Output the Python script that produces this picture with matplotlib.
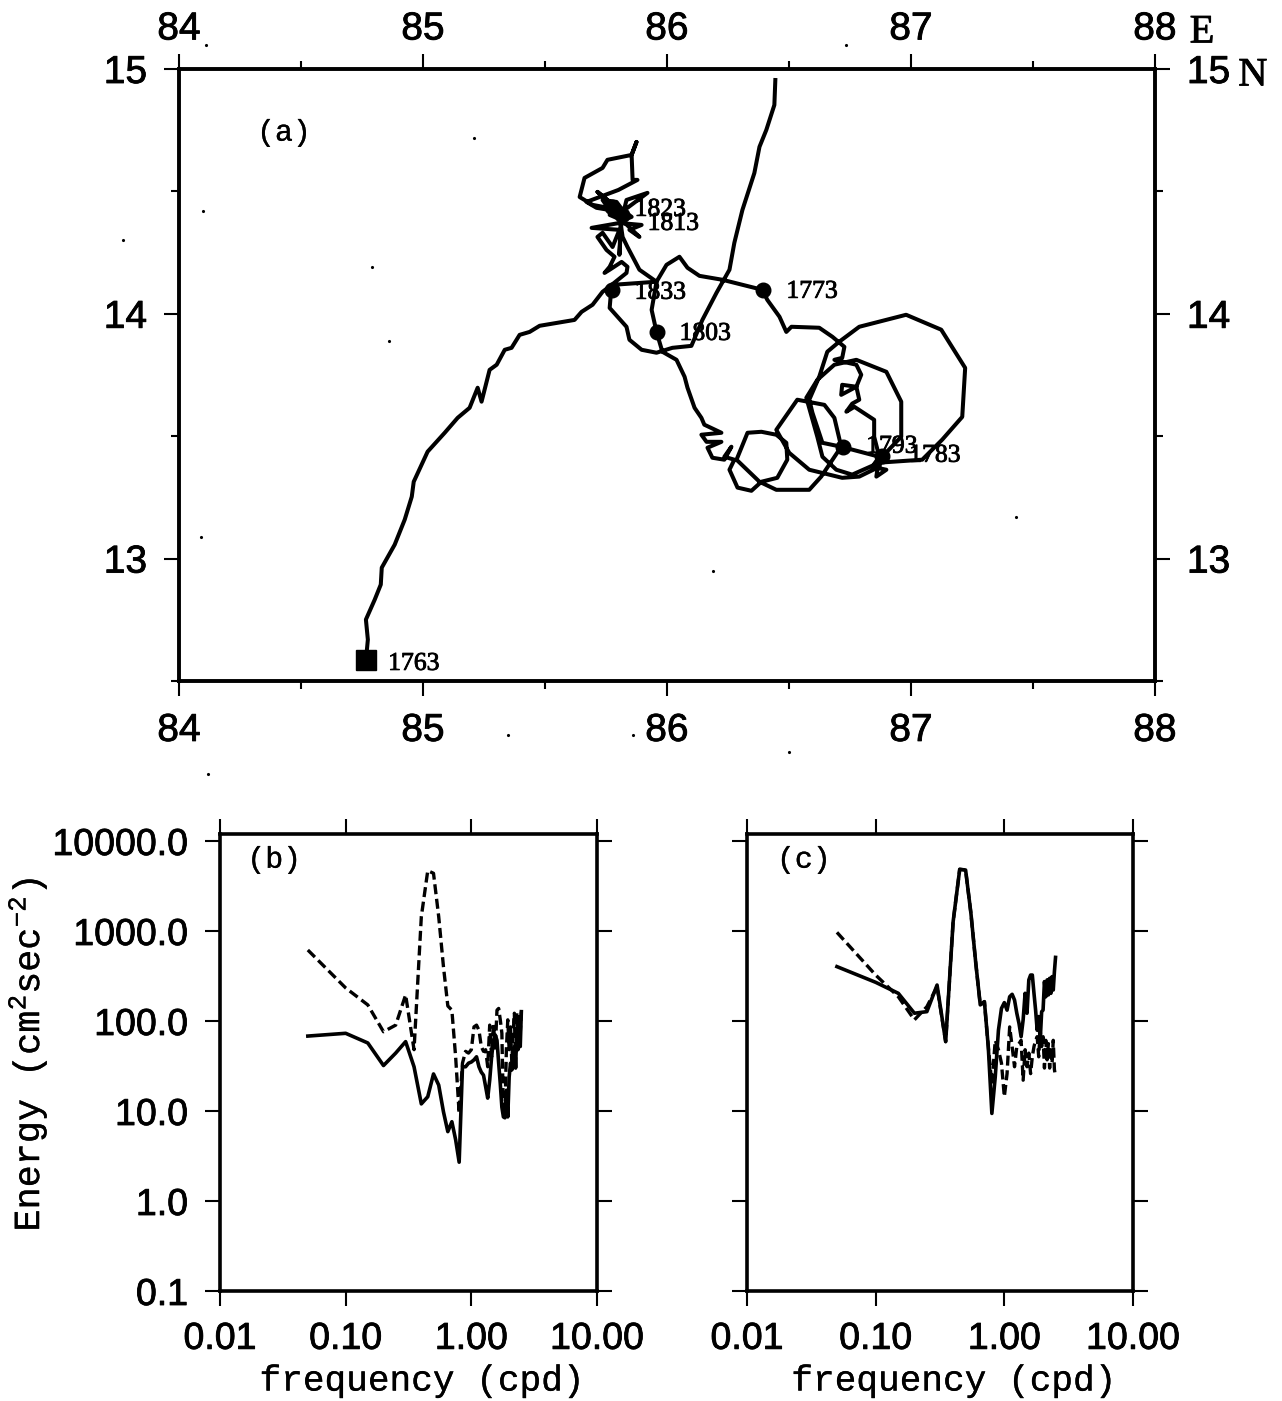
import matplotlib
matplotlib.use("Agg")
import matplotlib.pyplot as plt
import matplotlib.patheffects as pe
from matplotlib.text import Text
from matplotlib.ticker import NullLocator

plt.rcParams["font.family"] = "Liberation Sans"
plt.rcParams["mathtext.fontset"] = "custom"
plt.rcParams["mathtext.rm"] = "Liberation Mono"
plt.rcParams["mathtext.default"] = "rm"

# drifter track (a)
track_lon = [
    84.766, 84.774, 84.766, 84.802, 84.827, 84.831, 84.884, 84.925, 84.954, 84.962,
    85.019, 85.089, 85.142, 85.191, 85.224, 85.240, 85.273, 85.302, 85.335, 85.363,
    85.396, 85.437, 85.478, 85.621, 85.650, 85.695, 85.736, 85.773,
    85.834, 85.838, 85.814, 85.765, 85.744, 85.765, 85.785, 85.752, 85.715, 85.736,
    85.777, 85.805, 85.691, 85.805, 85.896, 85.846, 85.887, 85.814, 85.834, 85.920,
    85.838, 85.805, 85.715, 85.805, 85.695, 85.642, 85.662, 85.736, 85.756, 85.855,
    85.875, 85.855, 85.859, 85.879, 85.801,
    85.670, 85.711, 85.765, 85.736, 85.793, 85.818, 85.765, 85.793, 85.826, 85.855, 85.805,
    85.814, 85.805, 85.810,
    85.818, 85.838, 85.887, 85.957, 85.937, 85.957, 85.981, 86.039, 86.072, 86.084,
    86.113, 86.141, 86.153, 86.223, 86.141, 86.162, 86.223, 86.166, 86.186, 86.235,
    86.264, 86.235, 86.276, 86.256, 86.289, 86.346, 86.387, 86.452, 86.493, 86.489,
    86.448, 86.387, 86.330, 86.285, 86.379, 86.448, 86.583, 86.632, 86.714, 86.686,
    86.645, 86.534, 86.448, 86.501, 86.583, 86.718, 86.788, 86.870, 86.882, 86.960,
    86.960, 86.899, 86.776, 86.686, 86.616, 86.571, 86.616, 86.637, 86.694, 86.759,
    86.870, 87.046, 87.128, 87.210, 87.222, 87.124, 86.980, 86.788, 86.706, 86.657,
    86.624, 86.583, 86.596, 86.637, 86.714, 86.870, 86.858, 86.899, 86.841, 86.870,
    86.849, 86.849, 86.768, 86.735, 86.759, 86.788, 86.776, 86.714, 86.718, 86.776,
    86.796, 86.776, 86.686, 86.718, 86.727, 86.678, 86.624, 86.510, 86.489, 86.461,
    86.411, 86.391, 86.227, 86.133, 86.084, 86.051, 85.998, 85.957, 85.887, 85.773,
    85.765, 85.834, 85.846, 85.896, 85.957, 86.022, 86.100, 86.145, 86.203, 86.256,
    86.276, 86.309, 86.358, 86.379, 86.407, 86.440, 86.444,
]
track_lat = [
    12.584, 12.669, 12.751, 12.832, 12.894, 12.963, 13.057, 13.159, 13.253, 13.314,
    13.437, 13.514, 13.575, 13.616, 13.698, 13.641, 13.771, 13.792, 13.853, 13.861,
    13.914, 13.926, 13.951, 13.975, 14.008, 14.037, 14.090, 14.118,
    14.167, 14.192, 14.212, 14.180, 14.167, 14.192, 14.233, 14.261, 14.314, 14.331,
    14.273, 14.343, 14.351, 14.371, 14.363, 14.343, 14.314, 14.384, 14.465, 14.494,
    14.433, 14.424, 14.498, 14.424, 14.445, 14.477, 14.555, 14.596, 14.629, 14.649,
    14.702, 14.649, 14.547, 14.547, 14.506,
    14.457, 14.433, 14.424, 14.465, 14.457, 14.424, 14.404, 14.392, 14.384, 14.396, 14.433,
    14.396, 14.241, 14.370,
    14.314, 14.273, 14.180, 14.131, 14.016, 13.926, 13.845, 13.812, 13.743, 13.698,
    13.616, 13.575, 13.547, 13.514, 13.506, 13.477, 13.477, 13.453, 13.412, 13.404,
    13.457, 13.416, 13.404, 13.363, 13.290, 13.277, 13.314, 13.330, 13.404, 13.473,
    13.506, 13.518, 13.514, 13.404, 13.314, 13.281, 13.281, 13.335, 13.457, 13.575,
    13.628, 13.649, 13.526, 13.432, 13.363, 13.330, 13.335, 13.375, 13.416, 13.498,
    13.641, 13.763, 13.812, 13.792, 13.730, 13.657, 13.498, 13.416, 13.363, 13.343,
    13.392, 13.404, 13.486, 13.579, 13.779, 13.935, 13.996, 13.947, 13.886, 13.845,
    13.743, 13.649, 13.596, 13.473, 13.457, 13.416, 13.335, 13.363, 13.375, 13.416,
    13.498, 13.567, 13.620, 13.600, 13.633, 13.649, 13.702, 13.669, 13.710, 13.702,
    13.751, 13.792, 13.812, 13.820, 13.865, 13.906, 13.943, 13.947, 13.926, 13.988,
    14.057, 14.098, 14.139, 14.155, 14.188, 14.233, 14.200, 14.131, 14.126, 14.118,
    14.024, 13.947, 13.894, 13.853, 13.841, 13.861, 13.869, 13.975, 14.086, 14.180,
    14.290, 14.424, 14.575, 14.682, 14.751, 14.853, 14.955,
]

station_names = ["1773", "1783", "1793", "1803", "1813", "1823", "1833"]
station_lon = [86.395, 86.882, 86.722, 85.957, 85.814, 85.773, 85.773]
station_lat = [14.098, 13.420, 13.457, 13.926, 14.404, 14.437, 14.098]
station_off = [(23, -2), (27, 0), (23, 0), (23, -2), (26, -9), (23, -3), (23, -3)]
start_name = "1763"
start_lon = 84.766
start_lat = 12.584

# scan specks around the map
speck_lon = [84.11, 86.735, 85.21, 84.10, 83.77, 84.09, 86.19, 87.43, 84.79, 84.86, 85.35, 85.86, 86.50, 84.12]
speck_lat = [15.10, 15.10, 14.72, 14.42, 14.30, 13.09, 12.95, 13.17, 14.19, 13.89, 12.28, 12.28, 12.21, 12.12]

# spectra (b), (c)
freq = [
    0.05, 0.10, 0.15, 0.20, 0.25, 0.30, 0.35, 0.40, 0.45, 0.50,
    0.55, 0.60, 0.65, 0.70, 0.75, 0.80, 0.85, 0.90, 0.95, 1.00,
    1.05, 1.10, 1.15, 1.20, 1.25, 1.30, 1.35, 1.40, 1.45, 1.50,
    1.55, 1.60, 1.65, 1.70, 1.75, 1.80, 1.85, 1.90, 1.95, 2.00,
    2.05, 2.10, 2.15, 2.20, 2.25, 2.30, 2.35, 2.40, 2.45, 2.50,
]
b_solid = [
    68, 73, 57, 32, 44, 59, 31, 12, 14.4, 25.8,
    19.4, 9.8, 5.9, 7.6, 4.8, 2.7, 31, 31, 34, 35,
    37, 40, 31, 27, 25, 18.6, 13.9, 22, 40, 61,
    70, 61, 34, 20, 11, 8.6, 8.4, 17, 8.6, 24,
    34, 28.6, 31, 52, 30, 79, 48, 95, 52, 127,
]
b_dash = [
    615, 233, 151, 76, 90, 195, 48, 1443, 4680, 4375,
    1443, 402, 147, 132, 40, 9.4, 34, 46, 44, 48,
    86, 90, 79, 52, 46, 48, 31, 90, 40, 94,
    48, 132, 138, 103, 73, 9.4, 8.7, 48, 103, 48,
    86, 34, 73, 122, 29, 122, 52, 112, 73, 127,
]
c_solid = [
    402, 269, 203, 122, 127, 251, 59, 1270, 4845, 4760,
    1570, 438, 151, 164, 52, 9.4, 24, 79, 138, 160,
    132, 186, 198, 171, 122, 94, 67, 103, 203, 122,
    286, 324, 324, 203, 132, 79, 112, 61, 127, 132,
    274, 186, 286, 195, 298, 203, 311, 221, 353, 509,
]
c_dash = [
    966, 324, 186, 103, 144, 240, 59, 1270, 4845, 4760,
    1570, 438, 151, 164, 52, 20, 61, 48, 34, 14.4,
    26, 86, 52, 31, 52, 56, 61, 22, 48, 31,
    44, 26, 40, 52, 61, 67, 40, 79, 52, 67,
    30, 61, 37, 56, 30, 52, 34, 61, 29, 24,
]

W, H = 1282, 1401
fig = plt.figure(figsize=(W / 100, H / 100), dpi=100)


def box(left, top, right, bottom):
    return [left / W, 1 - bottom / H, (right - left) / W, (bottom - top) / H]


# (a) map
ax = fig.add_axes(box(179, 69, 1155, 681))
ax.plot(track_lon, track_lat, color="black", lw=2.9, solid_joinstyle="round")
ax.plot(station_lon, station_lat, "o", color="black", ms=10.5, ls="none")
ax.plot(start_lon, start_lat, "s", color="black", ms=14)
for name, lon, lat, off in zip(station_names, station_lon, station_lat, station_off):
    ax.annotate(name, (lon, lat), xytext=(off[0] * 0.72, off[1] * 0.72),
                textcoords="offset points", family="Liberation Serif",
                fontsize=18.5, va="center")
ax.annotate(start_name, (start_lon, start_lat), xytext=(16, -2.5),
            textcoords="offset points", family="Liberation Serif",
            fontsize=18.5, va="center")
ax.plot(speck_lon, speck_lat, ".", color="black", ms=2.5, clip_on=False)
ax.set_xlim(84, 88)
ax.set_ylim(12.5, 15)
ax.set_xticks([84, 85, 86, 87, 88])
ax.set_yticks([13, 14, 15])
ax.set_xticks([84.5, 85.5, 86.5, 87.5], minor=True)
ax.set_yticks([12.5, 13.5, 14.5], minor=True)
ax.tick_params(which="major", direction="out", length=11, width=1.5, labelsize=28,
               top=True, right=True, labelright=True)
ax.tick_params(axis="x", which="major", pad=12)
ax.tick_params(axis="y", which="major", pad=12)
ax.tick_params(which="minor", direction="out", length=6, width=1.5,
               top=True, right=True)
for s in ax.spines.values():
    s.set_linewidth(2.8)
# top labels sit closer to the frame than the bottom ones
sec = ax.secondary_xaxis("top")
sec.set_xticks([84, 85, 86, 87, 88])
sec.tick_params(length=0, labelsize=28, pad=15.5)
sec.spines["top"].set_visible(False)
ax.text(84.32, 14.74, "(a)", family="Liberation Mono", fontsize=21.5, va="center")
ax.annotate("E", (88, 15), xytext=(25, 26), textcoords="offset points",
            family="Liberation Serif", fontsize=29, va="center")
ax.annotate("N", (88, 15), xytext=(60, -5), textcoords="offset points",
            family="Liberation Serif", fontsize=29, va="center")


# (b), (c) spectra
def spectrum(pos, solid, dash, tag, tag_x, show_y):
    a = fig.add_axes(pos)
    a.set_xscale("log")
    a.set_yscale("log")
    a.plot(freq, dash, color="black", lw=2.4, ls=(0, (3, 1.4)))
    a.plot(freq, solid, color="black", lw=2.6)
    a.set_xlim(0.01, 10)
    a.set_ylim(0.1, 11960)
    a.set_xticks([0.01, 0.1, 1, 10])
    a.set_xticklabels(["0.01", "0.10", "1.00", "10.00"])
    a.set_yticks([0.1, 1, 10, 100, 1000, 10000])
    a.set_yticklabels(["0.1", "1.0", "10.0", "100.0", "1000.0", "10000.0"])
    a.xaxis.set_minor_locator(NullLocator())
    a.yaxis.set_minor_locator(NullLocator())
    a.tick_params(which="major", direction="out", length=11, width=1.5, labelsize=27,
                  top=True, right=True, labelleft=show_y)
    a.tick_params(axis="x", pad=10.5)
    a.tick_params(axis="y", pad=12)
    for s in a.spines.values():
        s.set_linewidth(2.6)
    a.text(tag_x, 6200, tag, family="Liberation Mono", fontsize=21.5, va="center")
    a.set_xlabel("frequency (cpd)", family="Liberation Mono", fontsize=26)
    a.xaxis.set_label_coords(0.535, -0.197)
    a.xaxis.label.set_verticalalignment("center")
    return a


ax_b = spectrum(box(220, 834, 597, 1291), b_solid, b_dash, "(b)", 0.0165, True)
ax_c = spectrum(box(747, 834, 1133, 1291), c_solid, c_dash, "(c)", 0.0171, False)
ax_b.set_ylabel("Energy (cm$^{2}$sec$^{-2}$)", family="Liberation Mono", fontsize=26.5)
ax_b.yaxis.set_label_coords(-0.51, 0.517)
ax_b.yaxis.label.set_verticalalignment("center")

# scanned print looks heavier than the plain fonts, less so for the typewriter text
fig.canvas.draw()
for t in fig.findobj(Text):
    width = 0.2 if "Liberation Mono" in t.get_fontfamily() else 0.6
    t.set_path_effects([pe.withStroke(linewidth=width, foreground="black")])

fig.savefig("out.png", dpi=100)
